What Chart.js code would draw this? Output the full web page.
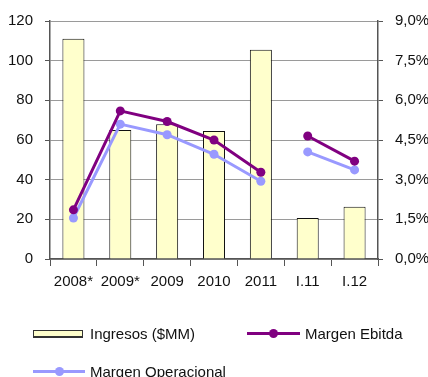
<!DOCTYPE html>
<html>
<head>
<meta charset="utf-8">
<script src="https://cdn.jsdelivr.net/npm/chart.js@4/dist/chart.umd.min.js"></script>
<style>
  html, body { margin: 0; padding: 0; background: #fff; overflow: hidden; }
  #wrap { position: relative; width: 428px; height: 377px; overflow: hidden; }
  canvas { position: absolute; left: 0; top: 0; }
  .lg { position: absolute; font-family: 'Liberation Sans', Arial, sans-serif; font-size: 15px; color: #111; line-height: 18px; white-space: nowrap; }
  .box { position: absolute; background: #FFFFCC; border: 1px solid #333; border-bottom-width: 2px; box-sizing: border-box; }
  .ln { position: absolute; height: 3px; }
  .dot { position: absolute; width: 9px; height: 9px; border-radius: 50%; }
</style>
</head>
<body>
<div id="wrap">
  <canvas id="c" width="428" height="377"></canvas>
  <div class="box" style="left:33px;top:330px;width:50px;height:8px;"></div>
  <div class="lg" style="left:90px;top:325px;">Ingresos ($MM)</div>
  <div class="ln" style="left:247px;top:332px;width:53px;background:#800080;"></div>
  <div class="dot" style="left:269px;top:329px;background:#800080;"></div>
  <div class="lg" style="left:305px;top:325px;">Margen Ebitda</div>
  <div class="ln" style="left:33px;top:370px;width:52px;background:#9999FF;"></div>
  <div class="dot" style="left:55px;top:367px;background:#9999FF;"></div>
  <div class="lg" style="left:90px;top:363px;">Margen Operacional</div>
</div>
<script>
// Periods on the category axis
const categories = ['2008*', '2009*', '2009', '2010', '2011', 'I.11', 'I.12'];
// Revenue in $MM (left axis)
const ingresos = [111, 65, 68, 64.5, 105.5, 20.7, 26.3];
// Margins in % (right axis)
const margenEbitda = [1.86, 5.6, 5.2, 4.5, 3.28, 4.65, 3.7];
const margenOperacional = [1.55, 5.1, 4.7, 3.96, 2.94, 4.05, 3.37];
// The margin lines are not joined across this period boundary
const breakAfter = '2011';

const FONT = "'Liberation Sans', Arial, sans-serif";
Chart.defaults.font.family = FONT;
Chart.defaults.font.size = 15;
Chart.defaults.color = '#111';

const gapSegment = ctx => categories[ctx.p0DataIndex] === breakAfter ? 'rgba(0,0,0,0)' : undefined;

new Chart(document.getElementById('c'), {
  data: {
    labels: categories,
    datasets: [
      {
        type: 'line', label: 'Margen Ebitda', data: margenEbitda, yAxisID: 'yr',
        borderColor: '#800080', backgroundColor: '#800080', borderWidth: 3,
        pointRadius: 4.5, pointBackgroundColor: '#800080', pointBorderWidth: 0,
        segment: { borderColor: gapSegment }, order: 0, tension: 0
      },
      {
        type: 'line', label: 'Margen Operacional', data: margenOperacional, yAxisID: 'yr',
        borderColor: '#9999FF', backgroundColor: '#9999FF', borderWidth: 3,
        pointRadius: 4.5, pointBackgroundColor: '#9999FF', pointBorderWidth: 0,
        segment: { borderColor: gapSegment }, order: 1, tension: 0
      },
      {
        type: 'bar', label: 'Ingresos ($MM)', data: ingresos, yAxisID: 'y',
        backgroundColor: '#FFFFCC', borderColor: '#111', borderWidth: 1,
        categoryPercentage: 1, barPercentage: 0.47, order: 2
      }
    ]
  },
  options: {
    responsive: false,
    devicePixelRatio: 1,
    animation: false,
    layout: { padding: { top: 19, bottom: 88, left: 0, right: 0 } },
    plugins: { legend: { display: false }, tooltip: { enabled: false } },
    scales: {
      x: {
        offset: true,
        afterFit: s => { s.height = 30; },
        grid: { drawOnChartArea: false, offset: true, tickLength: 7, tickColor: '#555', lineWidth: 1 },
        border: { color: '#555', width: 1.5 },
        ticks: { padding: 7, color: '#111', maxRotation: 0, autoSkip: false }
      },
      y: {
        position: 'left', min: 0, max: 120,
        afterFit: s => { s.width = 50; },
        ticks: { stepSize: 20, padding: 12, color: '#111' },
        grid: { color: '#9a9a9a', borderDash: [2, 1], tickBorderDash: [], tickColor: '#555', tickLength: 5, lineWidth: 1 },
        border: { color: '#555', width: 1.5 }
      },
      yr: {
        position: 'right', min: 0, max: 9,
        afterFit: s => { s.width = 50; },
        ticks: { stepSize: 1.5, padding: 12, color: '#111',
          callback: v => v.toFixed(1).replace('.', ',') + '%' },
        grid: { drawOnChartArea: false, tickColor: '#555', tickLength: 5 },
        border: { color: '#555', width: 1.5 }
      }
    }
  }
});
</script>
</body>
</html>
